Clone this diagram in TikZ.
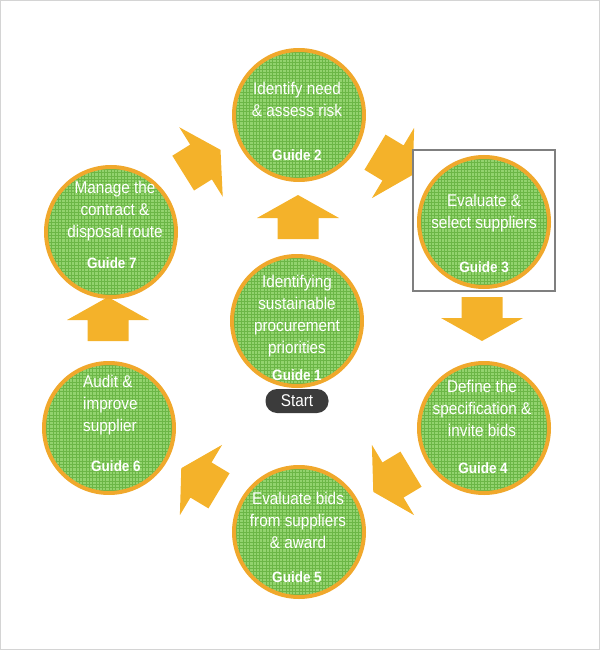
\documentclass[tikz,border=0pt]{standalone}
\usepackage{fontspec}
\setmainfont{Liberation Sans}[FakeStretch=0.9]
\definecolor{ringc}{HTML}{F0A82C}
\definecolor{arrowc}{HTML}{F4B22A}
\definecolor{greenbase}{HTML}{92D36E}
\definecolor{greenline}{HTML}{6BB646}
\definecolor{boxc}{HTML}{7F7F7F}
\definecolor{pillc}{HTML}{3B3B3B}
\definecolor{framec}{HTML}{D4D4D4}
\newcommand\blockarrow[3]{%
  \fill[arrowc, shift={(#1,#2)}, rotate=#3]
    (23,0) -- (0,41) -- (0,20.5) -- (-21,20.5) -- (-21,-20.5) -- (0,-20.5) -- (0,-41) -- cycle;}
\begin{document}
\begin{tikzpicture}[x=1pt,y=-1pt,
  stage/.style={circle, draw=ringc, line width=4pt, minimum size=130pt, inner sep=0pt,
    path picture={\fill[greenbase] (path picture bounding box.south west) rectangle (path picture bounding box.north east);
      \draw[greenline, line width=0.55pt, step=3.3pt] (path picture bounding box.south west) grid (path picture bounding box.north east);}},
  stagetext/.style={text=white, align=center, inner sep=0pt, font=\fontsize{17}{22}\selectfont},
  guidetext/.style={text=white, inner sep=0pt, font=\bfseries\fontsize{15}{18}\selectfont},
  highlight/.style={draw=boxc, line width=2.5pt, fill=white, minimum width=142pt, minimum height=141pt, inner sep=0pt},
  pill/.style={fill=pillc, text=white, rounded corners=11.5pt, minimum width=63pt, minimum height=24pt, inner sep=0pt, font=\fontsize{17}{20}\selectfont}]
\useasboundingbox (0,0) rectangle (600,650);
\draw[framec, line width=1.2pt] (0.6,0.6) rectangle (599.4,649.4);
% block arrows
\blockarrow{298}{218}{90}
\blockarrow{108}{320}{90}
\blockarrow{482}{318}{-90}
\blockarrow{201}{162}{32}
\blockarrow{393}{163}{-31}
\blockarrow{393}{480}{211}
\blockarrow{201}{480}{149}
% highlight box
\node[highlight] (box) at (484,220.5) {};
% stages
\node[stage] (g2) at (299,115) {};
\node[stage] (g3) at (484,222) {};
\node[stage] (g7) at (111,232) {};
\node[stage] (g1) at (297,321) {};
\node[stage] (g4) at (484,428) {};
\node[stage] (g6) at (109,428) {};
\node[stage] (g5) at (299,532) {};
% texts
\node[stagetext] (t2) at (297,99) {Identify need\\\& assess risk};
\node[guidetext] (u2) at (297,155) {Guide 2};
\node[stagetext] (t3) at (484,213) {Evaluate \&\\select suppliers};
\node[guidetext] (u3) at (484,267) {Guide 3};
\node[stagetext] (t7) at (115,211) {Manage the\\contract \&\\disposal route};
\node[guidetext] (u7) at (112,263) {Guide 7};
\node[stagetext] (t1) at (297,316) {Identifying\\sustainable\\procurement\\priorities};
\node[guidetext] (u1) at (297,375) {Guide 1};
\node[stagetext] (t4) at (482,408) {Define the\\specification \&\\invite bids};
\node[guidetext] (u4) at (483,468) {Guide 4};
\node[stagetext, align=left, anchor=west] (t6) at (83,405) {Audit \&\\improve\\supplier};
\node[guidetext] (u6) at (116,466) {Guide 6};
\node[stagetext] (t5) at (298,520) {Evaluate bids\\from suppliers\\\& award};
\node[guidetext] (u5) at (297,577) {Guide 5};
\node[pill] (start) at (297,401) {Start};
\end{tikzpicture}
\end{document}
